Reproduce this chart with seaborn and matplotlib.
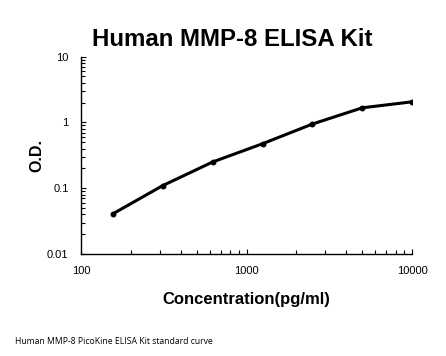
import matplotlib
matplotlib.use("Agg")
import matplotlib.pyplot as plt
import seaborn as sns
import pandas as pd
from matplotlib.ticker import LogLocator, FuncFormatter, NullFormatter

# Standard curve readings
concentration = [156.25, 312.5, 625, 1250, 2500, 5000, 10000]
od = [0.041, 0.110, 0.251, 0.475, 0.946, 1.67, 2.06]

x_ticks = [100, 1000, 10000]
y_ticks = [0.01, 0.1, 1, 10]


def plot():
    sns.set_style("white")
    plt.rcParams["font.family"] = ["Liberation Sans", "DejaVu Sans"]
    plt.rcParams["text.color"] = "black"
    plt.rcParams["axes.labelcolor"] = "black"
    plt.rcParams["xtick.color"] = "black"
    plt.rcParams["ytick.color"] = "black"

    df = pd.DataFrame({"conc": concentration, "od": od})

    fig = plt.figure(figsize=(4.46, 3.56), dpi=100)
    ax = fig.add_axes([81 / 446, 102 / 356, 331 / 446, 197.3 / 356])

    sns.lineplot(data=df, x="conc", y="od", ax=ax, color="black",
                 linewidth=2.2, marker="o", markersize=3.5,
                 markeredgecolor="black")

    ax.set_xscale("log")
    ax.set_yscale("log")
    ax.set_xlim(100, 10000)
    ax.set_ylim(0.01, 10)

    fmt = FuncFormatter(lambda v, _: f"{v:g}")
    ax.set_xticks(x_ticks)
    ax.set_yticks(y_ticks)
    ax.xaxis.set_major_formatter(fmt)
    ax.yaxis.set_major_formatter(fmt)
    ax.xaxis.set_minor_locator(LogLocator(base=10, subs=range(2, 10)))
    ax.yaxis.set_minor_locator(LogLocator(base=10, subs=range(2, 10)))
    ax.xaxis.set_minor_formatter(NullFormatter())
    ax.yaxis.set_minor_formatter(NullFormatter())

    ax.tick_params(which="both", direction="in", color="black",
                   bottom=True, left=True, top=False, right=False,
                   width=0.8)
    ax.tick_params(which="major", length=3.5, labelsize=8)
    ax.tick_params(axis="x", which="major", pad=9)
    ax.tick_params(axis="y", which="major", pad=9)
    ax.tick_params(which="minor", length=3)

    for side in ["top", "right"]:
        ax.spines[side].set_visible(False)
    for side in ["left", "bottom"]:
        ax.spines[side].set_color("black")
        ax.spines[side].set_linewidth(1.0)

    ax.set_xlabel("Concentration(pg/ml)", fontsize=12, fontweight="bold",
                  labelpad=11)
    ax.set_ylabel("O.D.", fontsize=11.5, fontweight="bold", labelpad=2)
    ax.grid(False)

    fig.text(232 / 446, 1 - 40 / 356, "Human MMP-8 ELISA Kit",
             ha="center", va="center", fontsize=17.3, fontweight="bold")
    fig.text(15 / 446, 1 - 341 / 356,
             "Human MMP-8 PicoKine ELISA Kit standard curve",
             ha="left", va="center", fontsize=6.2,
             family=["Open Sans", "DejaVu Sans"])

    fig.savefig("out.png", dpi=100)
    return ax


if __name__ == "__main__":
    plot()
